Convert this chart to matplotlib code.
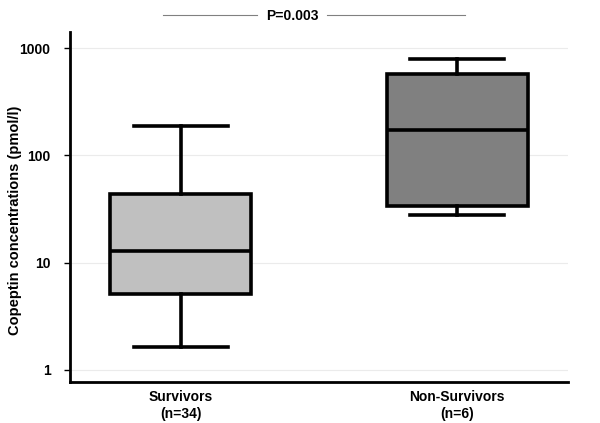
import matplotlib
matplotlib.use("Agg")
import matplotlib.pyplot as plt
import numpy as np

categories = ["Survivors\n(n=34)", "Non-Survivors\n(n=6)"]
whisker_low = [1.64, 28.0]
q1 = [5.1, 33.6]
median = [12.8, 171]
q3 = [43.4, 567]
whisker_high = [186, 798]
colors = ["#c0c0c0", "#808080"]
p_text = "P=0.003"

plt.rcParams['font.family'] = ['Liberation Sans', 'DejaVu Sans']
fig = plt.figure(figsize=(6, 4.23), dpi=100)
ax = fig.add_axes([70/600, 1 - 382/423, 498/600, 350/423])

stats = []
for i in range(len(categories)):
    stats.append(dict(med=median[i], q1=q1[i], q3=q3[i],
                      whislo=whisker_low[i], whishi=whisker_high[i], fliers=[]))
bp = ax.bxp(stats, positions=[1, 2], widths=0.51, patch_artist=True,
            showfliers=False,
            boxprops=dict(linewidth=2.6, edgecolor='black'),
            medianprops=dict(color='black', linewidth=2.6),
            whiskerprops=dict(color='black', linewidth=2.6),
            capprops=dict(color='black', linewidth=2.6),
            capwidths=0.34)
for patch, c in zip(bp['boxes'], colors):
    patch.set_facecolor(c)

ax.set_yscale('log')
ax.set_ylim(0.773, 1410)
ax.set_xlim(0.6, 2.4)
ax.set_yticks([1, 10, 100, 1000])
ax.set_yticklabels(['1', '10', '100', '1000'], fontweight='bold', fontsize=10)
ax.yaxis.set_minor_locator(matplotlib.ticker.NullLocator())
ax.set_xticks([1, 2])
ax.set_xticklabels(categories, fontweight='bold', fontsize=10)
ax.tick_params(axis='x', length=0, pad=6)
ax.tick_params(axis='y', length=4, width=1, pad=10)
ax.grid(axis='y', color='#ebebeb', linewidth=0.8)
ax.set_axisbelow(True)
for s in ['top', 'right']:
    ax.spines[s].set_visible(False)
ax.spines['left'].set_linewidth(2)
ax.spines['bottom'].set_linewidth(2)
ax.set_ylabel("Copeptin concentrations (pmol/l)", fontweight='bold', fontsize=10.5)
ax.yaxis.set_label_coords(-0.096, 0.463)

# p-value annotation
fig.text(292/600, 1 - 16/423, p_text, ha='center', va='center', fontweight='bold', fontsize=10)
fig.add_artist(plt.Line2D([163/600, 257/600], [1 - 15/423, 1 - 15/423], color='#808080', linewidth=0.8))
fig.add_artist(plt.Line2D([327/600, 465/600], [1 - 15/423, 1 - 15/423], color='#808080', linewidth=0.8))

fig.savefig("out.png", dpi=100)
